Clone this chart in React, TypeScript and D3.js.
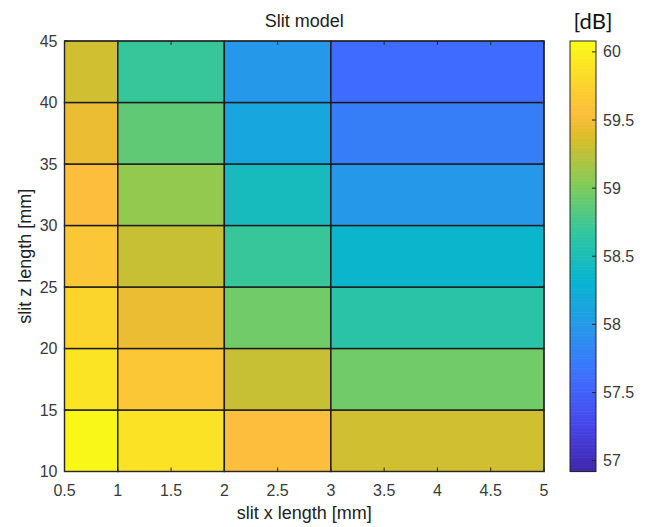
import React from "react";
import * as d3 from "d3";

// Cell edges along x (mm) and z (mm)
const xEdges = [0.5, 1, 2, 3, 5];
const zEdges = [10, 15, 20, 25, 30, 35, 40, 45];

// Level [dB] per x column (rows from z = 10-15 up to 40-45)
const col05to1 = [60.05, 59.9, 59.78, 59.65, 59.55, 59.45, 59.33];
const col1to2 = [59.88, 59.65, 59.45, 59.3, 59.1, 58.88, 58.7];
const col2to3 = [59.55, 59.3, 58.95, 58.7, 58.45, 58.15, 57.98];
const col3to5 = [59.33, 58.95, 58.62, 58.35, 57.98, 57.75, 57.6];
const columns = [col05to1, col1to2, col2to3, col3to5];

const xTicks = [0.5, 1, 1.5, 2, 2.5, 3, 3.5, 4, 4.5, 5];
const zTicks = [10, 15, 20, 25, 30, 35, 40, 45];
const cbTicks = [57, 57.5, 58, 58.5, 59, 59.5, 60];
const cLimits = [56.92, 60.08];

// parula-like colour stops
const parulaStops: [number, number, number][] = [
  [0.2422, 0.1504, 0.6603],
  [0.2803, 0.2782, 0.9221],
  [0.244, 0.4358, 0.9988],
  [0.154, 0.5902, 0.9218],
  [0.0297, 0.7082, 0.8163],
  [0.1938, 0.7758, 0.6251],
  [0.5044, 0.7993, 0.348],
  [0.8634, 0.7406, 0.1596],
  [0.99, 0.74, 0.24],
  [0.9892, 0.8136, 0.1885],
  [0.9769, 0.9839, 0.0805],
];
const parulaPos = [0, 1 / 9, 2 / 9, 3 / 9, 4 / 9, 5 / 9, 6 / 9, 7 / 9, 0.83, 8 / 9, 1];

const toHex = (c: [number, number, number]) =>
  d3.rgb(c[0] * 255, c[1] * 255, c[2] * 255).formatHex();

const parula = d3
  .scaleLinear<string>()
  .domain(parulaPos)
  .range(parulaStops.map(toHex))
  .interpolate(d3.interpolateRgb)
  .clamp(true);

const W = 648;
const H = 527;
const plot = { left: 64.5, right: 544, top: 41, bottom: 471.5 };
const cb = { left: 570, right: 596 };

const FONT = "'Liberation Sans', Arial, Helvetica, sans-serif";
const TXT = "#3a3a3a";
const TICK_FS = 16;
const LABEL_FS = 18;

export default function App() {
  const x = d3.scaleLinear().domain([0.5, 5]).range([plot.left, plot.right]);
  const y = d3.scaleLinear().domain([10, 45]).range([plot.bottom, plot.top]);
  const t = d3.scaleLinear().domain(cLimits).range([0, 1]);
  const color = (v: number) => parula(t(v));
  const cy = d3.scaleLinear().domain(cLimits).range([plot.bottom, plot.top]);

  const cells: { x0: number; x1: number; z0: number; z1: number; v: number }[] = [];
  columns.forEach((col, i) =>
    col.forEach((v, j) =>
      cells.push({ x0: xEdges[i], x1: xEdges[i + 1], z0: zEdges[j], z1: zEdges[j + 1], v })
    )
  );

  const nSlices = 300;
  const slices = d3.range(nSlices).map((i) => {
    const a = cLimits[0] + ((cLimits[1] - cLimits[0]) * i) / nSlices;
    const b = cLimits[0] + ((cLimits[1] - cLimits[0]) * (i + 1)) / nSlices;
    return { a, b };
  });

  const midX = (plot.left + plot.right) / 2;

  return (
    <svg
      width={W}
      height={H}
      style={{ position: "absolute", left: 0, top: 0, background: "#fff" }}
      fontFamily={FONT}
    >
      <rect width={W} height={H} fill="#fff" />

      {/* heatmap cells */}
      {cells.map((c, i) => (
        <rect
          key={i}
          x={x(c.x0)}
          y={y(c.z1)}
          width={x(c.x1) - x(c.x0)}
          height={y(c.z0) - y(c.z1)}
          fill={color(c.v)}
          stroke="#1a1a1a"
          strokeWidth={1.4}
        />
      ))}

      {/* axes box */}
      <rect
        x={plot.left}
        y={plot.top}
        width={plot.right - plot.left}
        height={plot.bottom - plot.top}
        fill="none"
        stroke="#262626"
        strokeWidth={1}
      />

      {/* x ticks */}
      {xTicks.map((v) => (
        <g key={"x" + v}>
          <line x1={x(v)} x2={x(v)} y1={plot.bottom} y2={plot.bottom - 4} stroke="#262626" />
          <line x1={x(v)} x2={x(v)} y1={plot.top} y2={plot.top + 4} stroke="#262626" />
          <text x={x(v)} y={plot.bottom + 24} textAnchor="middle" fontSize={TICK_FS} fill={TXT}>
            {v}
          </text>
        </g>
      ))}

      {/* z ticks */}
      {zTicks.map((v) => (
        <g key={"z" + v}>
          <line x1={plot.left} x2={plot.left + 4} y1={y(v)} y2={y(v)} stroke="#262626" />
          <line x1={plot.right} x2={plot.right - 4} y1={y(v)} y2={y(v)} stroke="#262626" />
          <text
            x={plot.left - 7}
            y={y(v)}
            dy="0.35em"
            textAnchor="end"
            fontSize={TICK_FS}
            fill={TXT}
          >
            {v}
          </text>
        </g>
      ))}

      {/* titles */}
      <text x={midX} y={27} textAnchor="middle" fontSize={LABEL_FS} fill="#222">
        Slit model
      </text>
      <text x={midX} y={519} textAnchor="middle" fontSize={LABEL_FS} fill="#222">
        slit x length [mm]
      </text>
      <text
        transform={`translate(31, ${(plot.top + plot.bottom) / 2}) rotate(-90)`}
        textAnchor="middle"
        fontSize={LABEL_FS}
        fill="#222"
      >
        slit z length [mm]
      </text>

      {/* colorbar */}
      {slices.map((s, i) => (
        <rect
          key={"s" + i}
          x={cb.left}
          y={cy(s.b)}
          width={cb.right - cb.left}
          height={cy(s.a) - cy(s.b) + 0.6}
          fill={color((s.a + s.b) / 2)}
        />
      ))}
      <rect
        x={cb.left}
        y={plot.top}
        width={cb.right - cb.left}
        height={plot.bottom - plot.top}
        fill="none"
        stroke="#262626"
        strokeWidth={1}
      />
      {cbTicks.map((v) => (
        <g key={"c" + v}>
          <line x1={cb.right} x2={cb.right - 4} y1={cy(v)} y2={cy(v)} stroke="#262626" />
          <text x={cb.right + 7} y={cy(v)} dy="0.35em" fontSize={TICK_FS} fill={TXT}>
            {v}
          </text>
        </g>
      ))}
      <text
        x={593}
        y={29}
        textAnchor="middle"
        fontSize={22}
        fill="#111"
        fontFamily="Lato, 'Open Sans', sans-serif"
      >
        [dB]
      </text>
    </svg>
  );
}
